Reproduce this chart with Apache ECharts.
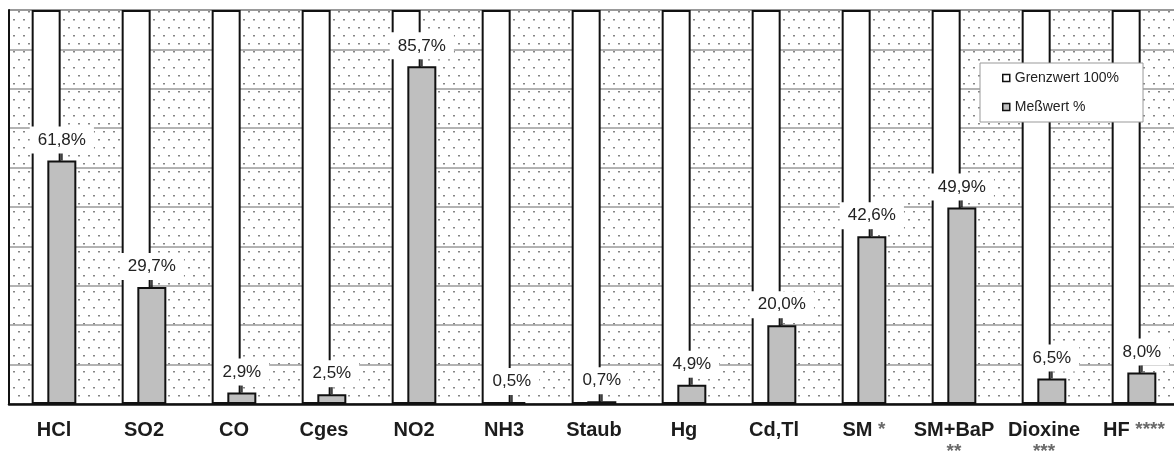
<!DOCTYPE html>
<html>
<head>
<meta charset="utf-8">
<script src="https://cdn.jsdelivr.net/npm/echarts@6/dist/echarts.min.js"></script>
<style>
html,body{margin:0;padding:0;background:#fff;}
#chart{width:1174px;height:454px;}
</style>
</head>
<body>
<div id="chart"></div>
<script>
// ---- data ----
const categories = ['HCl','SO2','CO','Cges','NO2','NH3','Staub','Hg','Cd,Tl','SM','SM+BaP','Dioxine','HF'];
const notes      = ['','','','','','','','','','*','**','***','****'];
const limitValues = [100,100,100,100,100,100,100,100,100,100,100,100,100];
const measuredValues = [61.8,29.7,2.9,2.5,85.7,0.5,0.7,4.9,20.0,42.6,49.9,6.5,8.0];
const yTicks = [0,10,20,30,40,50,60,70,80,90,100];
const seriesNames = ['Grenzwert 100%','Meßwert %'];

const FONT = 'Liberation Sans, Arial, Helvetica, sans-serif';

// dotted background pattern
const pc = document.createElement('canvas');
pc.width = 20; pc.height = 16;
const pctx = pc.getContext('2d');
pctx.fillStyle = '#ffffff';
pctx.fillRect(0,0,20,16);
pctx.fillStyle = '#858585';
pctx.fillRect(3,3,2,1.5);
pctx.fillRect(13,3,2,1.5);
pctx.fillRect(8,11,2,1.5);
pctx.fillRect(18,11,2,1.5);

const chart = echarts.init(document.getElementById('chart'), null, {renderer:'canvas'});

const option = {
  animation: false,
  backgroundColor: '#fff',
  grid: {
    left: 9, top: 10, width: 1170, height: 394,
    outerBoundsMode: 'none',
    containLabel: false,
    show: true,
    backgroundColor: {image: pc, repeat: 'repeat'},
    borderColor: '#333', borderWidth: 1
  },
  legend: {
    orient: 'vertical',
    left: 980, top: 63,
    backgroundColor: '#fff',
    borderColor: '#999', borderWidth: 1,
    padding: [8, 24, 8, 22],
    itemGap: 15,
    itemWidth: 7, itemHeight: 7,
    icon: 'rect',
    textStyle: {fontSize: 14, color: '#222', fontFamily: FONT},
    data: [
      {name: seriesNames[0], itemStyle: {borderWidth: 1.5}},
      {name: seriesNames[1], itemStyle: {borderWidth: 1.5}}
    ]
  },
  xAxis: {
    type: 'category',
    data: categories,
    axisLine: {show: true, lineStyle: {color: '#111', width: 2.5}},
    axisTick: {show: false},
    splitLine: {show: false},
    axisLabel: {
      interval: 0,
      margin: 15,
      formatter: function (v, i) {
        const n = notes[i];
        if (!n) return '{n|' + v + '}';
        if (v.length > 4) return '{n|' + v + '}\n{s|' + n + '}';
        return '{n|' + v + ' }{s|' + n + '}';
      },
      rich: {
        n: {fontSize: 20, fontWeight: 'bold', color: '#1c1c1c', fontFamily: FONT, lineHeight: 22},
        s: {fontSize: 19, fontWeight: 'bold', color: '#6a6a6a', fontFamily: FONT, lineHeight: 22}
      }
    }
  },
  yAxis: {
    type: 'value',
    min: yTicks[0], max: yTicks[yTicks.length-1], interval: yTicks[1]-yTicks[0],
    axisLine: {show: true, lineStyle: {color: '#111', width: 2}},
    axisTick: {show: false},
    axisLabel: {show: false},
    splitLine: {show: true, lineStyle: {color: '#9a9a9a', width: 1.5}}
  },
  series: [
    {
      name: seriesNames[0],
      type: 'bar',
      data: limitValues,
      barWidth: 29,
      barGap: '-46%',
      itemStyle: {color: '#ffffff', borderColor: '#111', borderWidth: 2}
    },
    {
      name: seriesNames[1],
      type: 'bar',
      data: measuredValues,
      barWidth: 29,
      itemStyle: {color: '#bfbfbf', borderColor: '#111', borderWidth: 2},
      label: {
        show: true,
        position: 'top',
        distance: 7,
        formatter: function (p) { return p.value.toFixed(1).replace('.', ',') + '%'; },
        fontSize: 17,
        fontFamily: FONT,
        color: '#222',
        backgroundColor: '#fff',
        padding: [5, 8]
      }
    },
    {
      name: 'tick',
      type: 'scatter',
      data: measuredValues,
      symbol: 'rect',
      symbolSize: [2, 7],
      symbolOffset: [7.8, -3.5],
      itemStyle: {color: '#111'},
      silent: true,
      z: 5
    }
  ]
};
chart.setOption(option);
</script>
</body>
</html>
